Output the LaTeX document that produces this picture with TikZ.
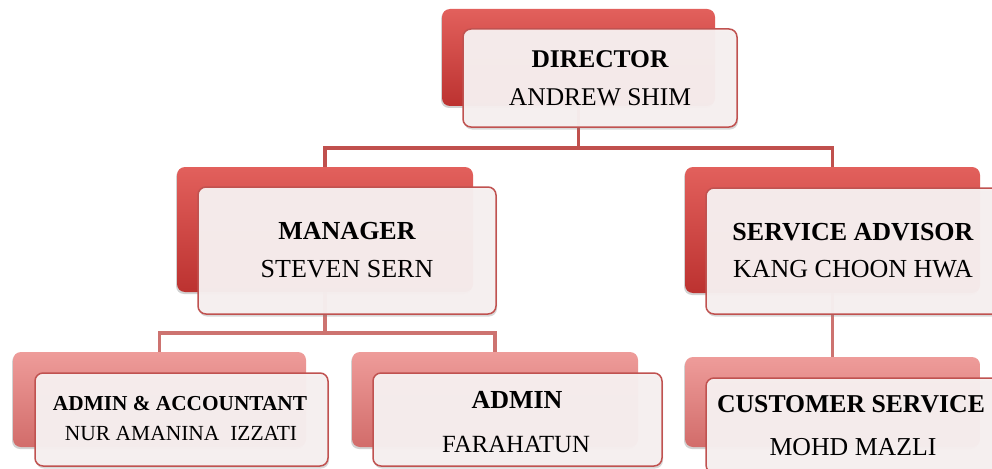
\documentclass[tikz,border=0pt]{standalone}
\usepackage{fontspec}
\setmainfont{Liberation Serif}
\usetikzlibrary{shadows}
\definecolor{linecol}{RGB}{192,80,77}
\definecolor{lowline}{RGB}{205,115,112}
\definecolor{redtop}{RGB}{226,96,92}
\definecolor{redmid}{RGB}{206,68,64}
\definecolor{redbot}{RGB}{188,50,48}
\definecolor{pinktop}{RGB}{238,156,154}
\definecolor{pinkmid}{RGB}{224,130,128}
\definecolor{pinkbot}{RGB}{210,108,106}
\definecolor{frontfill}{RGB}{247,240,240}
\definecolor{frontdraw}{RGB}{192,82,80}
\tikzset{
  backbox/.style={rounded corners=8pt, draw=none, top color=redtop, middle color=redmid, bottom color=redbot,
    inner sep=0pt, drop shadow={shadow xshift=-1pt, shadow yshift=-2pt, opacity=0.35}},
  lowbox/.style={backbox, top color=pinktop, middle color=pinkmid, bottom color=pinkbot},
  frontbox/.style={rounded corners=8pt, draw=frontdraw, line width=1.5pt, fill=frontfill,
    fill opacity=0.96, inner sep=0pt,
    drop shadow={shadow xshift=1pt, shadow yshift=-2.5pt, opacity=0.3}},
  conn/.style={draw=linecol, line width=3.5pt},
  lowconn/.style={draw=lowline, line width=3.5pt},
  ttl/.style={anchor=base, inner sep=0pt, font=\bfseries\fontsize{26}{30}\selectfont},
  nam/.style={anchor=base, inner sep=0pt, font=\fontsize{26}{30}\selectfont},
}
\begin{document}
\begin{tikzpicture}[x=1pt,y=-1pt]
\useasboundingbox (0,0) rectangle (992,468);
\clip (0,0) rectangle (992,468);
\fill[white] (0,0) rectangle (992,468);

% connectors (drawn first)
\coordinate (j1) at (578.5,148);
\coordinate (j2) at (325,333);
\coordinate (dirc) at (578.5,57.5);
\coordinate (manc) at (325,229.5);
\coordinate (sac) at (832.5,230);
\draw[conn] (dirc) -- (j1);
\draw[conn] (j1) -| (manc);
\draw[conn] (j1) -| (sac);
\draw[lowconn] (manc) -- (j2);
\draw[lowconn] (j2) -| (159.5,399);
\draw[lowconn] (j2) -| (495,399);
\draw[lowconn] (sac) -- (832.5,400);

% back boxes
\node[backbox, minimum width=273pt, minimum height=97pt] (dirB) at (dirc) {};
\node[backbox, minimum width=296pt, minimum height=125pt] (manB) at (manc) {};
\node[backbox, minimum width=295pt, minimum height=126pt] (saB) at (sac) {};
\node[lowbox, minimum width=293pt, minimum height=95pt] (aaB) at (159.5,399.5) {};
\node[lowbox, minimum width=286pt, minimum height=95pt] (adB) at (495,399.5) {};
\node[lowbox, minimum width=295pt, minimum height=90pt] (csB) at (832.5,402) {};

% front boxes
\node[frontbox, minimum width=274pt, minimum height=98pt] (dirF) at (600,78) {};
\node[frontbox, minimum width=298pt, minimum height=127pt] (manF) at (347,250.5) {};
\node[frontbox, minimum width=298pt, minimum height=126pt] (saF) at (855,251) {};
\node[frontbox, minimum width=293pt, minimum height=93pt] (aaF) at (181.5,419.5) {};
\node[frontbox, minimum width=289pt, minimum height=93pt] (adF) at (517.5,419.5) {};
\node[frontbox, minimum width=294pt, minimum height=95pt] (csF) at (853,425.5) {};

% texts
\node[ttl, font=\bfseries\fontsize{25.5}{30}\selectfont] (t1) at (600,68) {DIRECTOR};
\node[nam, font=\fontsize{25.5}{30}\selectfont] (n1) at (600,106) {ANDREW SHIM};
\node[ttl] (t2) at (347,239) {MANAGER};
\node[nam] (n2) at (347,277) {STEVEN SERN};
\node[ttl] (t3) at (853,240) {SERVICE ADVISOR};
\node[nam] (n3) at (853,277) {KANG CHOON HWA};
\node[ttl, font=\bfseries\fontsize{21.3}{26}\selectfont] (t4) at (180,410) {ADMIN \& ACCOUNTANT};
\node[nam, font=\fontsize{21.5}{26}\selectfont] (n4) at (181,440) {NUR AMANINA\ \ IZZATI};
\node[ttl] (t5) at (517,408) {ADMIN};
\node[nam, font=\fontsize{24.7}{30}\selectfont] (n5) at (516,452) {FARAHATUN};
\node[ttl, font=\bfseries\fontsize{25.7}{30}\selectfont] (t6) at (851,412) {CUSTOMER SERVICE};
\node[nam, font=\fontsize{25.8}{30}\selectfont] (n6) at (853,455) {MOHD MAZLI};
\end{tikzpicture}
\end{document}
